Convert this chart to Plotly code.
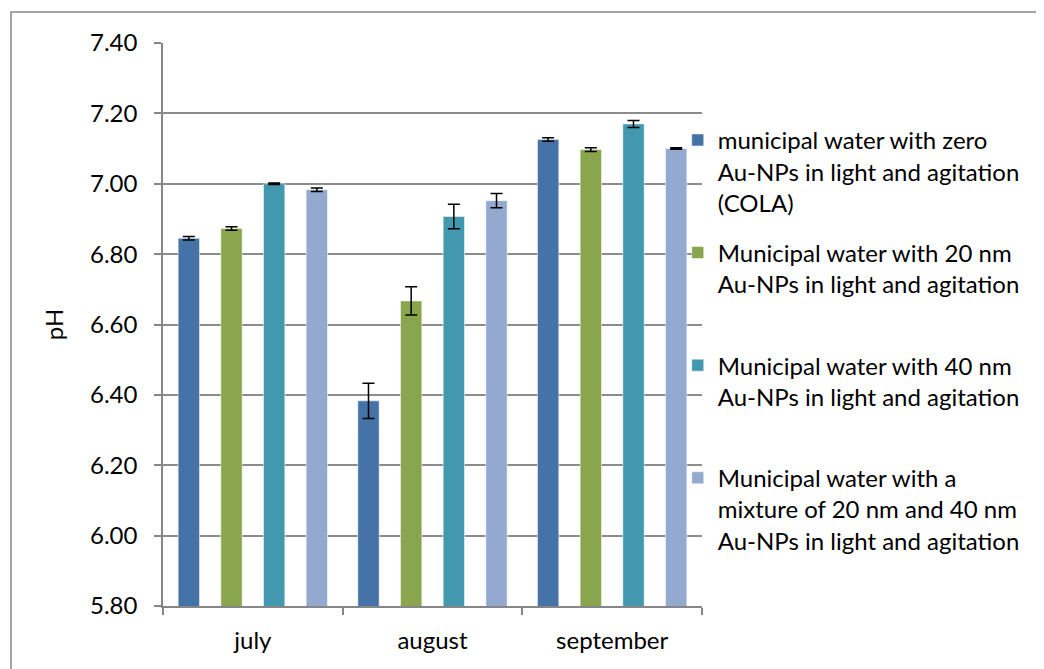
import plotly.graph_objects as go

months = ["july", "august", "september"]
series_names = [
    "municipal water with zero<br>Au-NPs in light and agitation<br>(COLA)",
    "Municipal water with 20 nm<br>Au-NPs in light and agitation<br>\u00a0",
    "Municipal water with 40 nm<br>Au-NPs in light and agitation<br>\u00a0",
    "Municipal water with a<br>mixture of 20 nm and 40 nm<br>Au-NPs in light and agitation",
]
zero_np = [6.845, 6.383, 7.126]
zero_np_err = [0.005, 0.05, 0.005]
np20 = [6.873, 6.667, 7.097]
np20_err = [0.005, 0.04, 0.005]
np40 = [7.000, 6.907, 7.170]
np40_err = [0.002, 0.035, 0.01]
mix = [6.983, 6.952, 7.100]
mix_err = [0.005, 0.02, 0.002]
colors = ["#4572A7", "#89A54E", "#4198AF", "#93A9CF"]

values = [zero_np, np20, np40, mix]
errors = [zero_np_err, np20_err, np40_err, mix_err]

FONT = "Lato"
FS = 24
# page has an 8px body margin; plot area target (page px): x 163-702, y 43-606
L, T = 155, 35
PW, PH = 539, 563
fig = go.Figure()
for i in range(4):
    fig.add_trace(go.Bar(
        x=months, y=values[i], name=series_names[i],
        marker=dict(color=colors[i], line=dict(color="rgba(255,255,255,0.5)", width=1)),
        error_y=dict(type="data", array=errors[i], visible=True,
                     color="black", thickness=1.5, width=6),
        legendgroup=f"g{i}",
    ))

fig.update_layout(
    width=1044, height=669,
    margin=dict(l=L, r=1044 - L - PW, t=T, b=669 - T - PH),
    paper_bgcolor="white", plot_bgcolor="white",
    font=dict(family=FONT, size=FS, color="black"),
    barmode="group", bargap=0.05, bargroupgap=0.5,
    showlegend=True,
    legend=dict(x=0.955, y=0.867, xanchor="left", yanchor="top",
                valign="top", tracegroupgap=16,
                font=dict(family=FONT, size=FS, color="black"),
                bgcolor="rgba(0,0,0,0)"),
    xaxis=dict(showline=True, linecolor="#868686", linewidth=1.5,
               ticks="outside", tickson="boundaries", ticklen=7,
               tickcolor="#868686", tickwidth=1.5, ticklabelstandoff=12,
               tickfont=dict(size=FS)),
    yaxis=dict(range=[5.8, 7.4], dtick=0.2, tickformat=".2f",
               showline=True, linecolor="#868686", linewidth=1.5,
               ticks="outside", ticklen=7, tickcolor="#868686", tickwidth=1.5,
               ticklabelstandoff=12,
               showgrid=True, gridcolor="#8C8C8C", gridwidth=1.5,
               zeroline=False, tickfont=dict(size=FS),
               title=dict(text="pH", font=dict(size=FS), standoff=20)),
    shapes=[dict(type="rect", xref="paper", yref="paper",
                 x0=(3 - L) / PW, x1=(1050 - L) / PW,
                 y0=(T + PH - 700) / PH, y1=(T + PH - 4) / PH,
                 line=dict(color="#868686", width=1.5), fillcolor="rgba(0,0,0,0)",
                 layer="below")],
)

fig.write_html("out.html")
